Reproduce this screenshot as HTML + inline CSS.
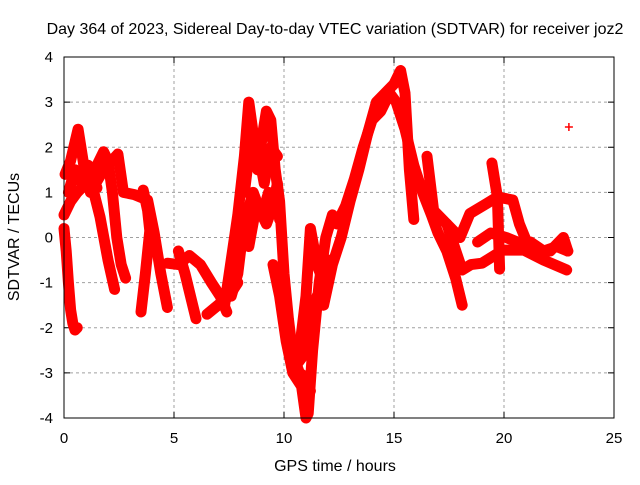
<!DOCTYPE html>
<html><head><meta charset="utf-8"><style>
body{margin:0;background:#fff}
svg text{font-family:"Liberation Sans",sans-serif;font-size:15px;fill:#000}
svg text.big{font-size:16px}
</style></head><body>
<svg id="chart" width="640" height="480" xmlns="http://www.w3.org/2000/svg">
<rect width="640" height="480" fill="#fff"/>
<text class="big" x="335" y="34" text-anchor="middle">Day 364 of 2023, Sidereal Day-to-day VTEC variation (SDTVAR) for receiver joz2</text>
<text class="big" x="335" y="471" text-anchor="middle">GPS time / hours</text>
<text class="big" transform="translate(19,237) rotate(-90)" text-anchor="middle">SDTVAR / TECUs</text>
<g id="grid"></g><g id="ticks"></g><g id="series"></g>
<rect x="64" y="57" width="550" height="361" fill="none" stroke="#000" stroke-width="1"/>
</svg>
<script>
const xTicks=[0,5,10,15,20,25];
const yTicks=[-4,-3,-2,-1,0,1,2,3,4];
const traces=[
{t:[0,0.1,0.2,0.3,0.4,0.5,0.6],v:[0.2,-0.3,-1,-1.6,-1.9,-2.05,-2.0]},
{t:[0,0.3,0.6,1.0,1.4,1.8,2.0,2.2,2.4,2.6,2.8],v:[0.5,0.8,1.0,1.2,1.5,1.9,1.7,1.0,0.0,-0.6,-0.9]},
{t:[0.05,0.3,0.64,0.9,1.2,1.64,2.0,2.3],v:[1.4,1.7,2.4,1.6,1.3,0.45,-0.5,-1.15]},
{t:[0.2,0.5,0.8,1.1,1.5],v:[1.0,1.5,1.2,1.6,1.1]},
{t:[1.2,1.8,2.45,2.7,3.2,3.8,4.1,4.4,4.7],v:[1.0,1.5,1.85,1.0,0.95,0.83,0.1,-0.8,-1.55]},
{t:[3.6,3.8,3.9,3.7,3.5],v:[1.05,0.6,0.15,-0.8,-1.65]},
{t:[4.7,5.2,5.7,6.2,6.7,7.1,7.4],v:[-0.57,-0.6,-0.4,-0.6,-1.0,-1.3,-1.65]},
{t:[5.2,5.5,5.8,6.0],v:[-0.3,-0.8,-1.4,-1.8]},
{t:[6.5,7.0,7.5,7.9],v:[-1.7,-1.5,-1.3,-1.0]},
{t:[7.3,7.6,7.9,8.2,8.4,8.6,8.8,9.0,9.2,9.4,9.6,9.8,10.0,10.2,10.4,10.7,11.0,11.2],v:[-1.5,-0.5,0.5,1.8,3.0,2.3,1.5,2.2,2.8,2.6,1.5,0.8,-0.8,-1.8,-2.6,-3.0,-3.1,-3.4]},
{t:[8.0,8.3,8.6,8.9,9.2,9.5,9.7,9.8],v:[-0.2,0.5,1.0,0.6,0.3,0.7,1.2,0.4]},
{t:[7.6,7.9,8.1,8.4,8.7,9.0,9.3],v:[-1.3,-0.8,0,-0.2,0.6,0.5,1.0]},
{t:[8.2,8.5,8.8,9.1,9.4,9.7],v:[1.0,2.2,2.0,1.2,2.0,1.8]},
{t:[9.5,9.8,10.1,10.4,10.8,11.0,11.1,11.3,11.6,11.9,12.2],v:[-0.6,-1.3,-2.3,-3.0,-3.3,-4.0,-3.9,-2.5,-1.0,0.0,0.5]},
{t:[10.7,11.0,11.2,11.5,11.8,12.0],v:[-2.5,-1.3,0.2,-0.6,-1.0,-0.5]},
{t:[10.3,10.6,10.9,11.2,11.5],v:[-2.2,-2.8,-2.6,-1.8,-1.3]},
{t:[11.8,12.2,12.6,13.0,13.4,13.8,14.2,14.6,15.0,15.3,15.5,15.7,15.9],v:[-1.5,-0.6,0.0,0.8,1.5,2.3,3.0,3.2,3.4,3.7,3.2,1.5,0.4]},
{t:[12.4,12.8,13.2,13.6,14.0,14.4,14.8,15.1,15.5,15.9,16.3,16.7,17.0,17.4,17.8,18.1],v:[0.3,0.7,1.3,2.0,2.6,2.8,3.2,3.0,2.4,1.6,1.0,0.5,0.1,-0.3,-0.9,-1.5]},
{t:[16.5,16.8,17.4,18.1,18.5,19.0,19.95,20.9,21.8,22.85],v:[1.8,0.6,0.3,-0.72,-0.6,-0.57,-0.28,-0.28,-0.5,-0.72]},
{t:[17.4,18.0,18.45,19.2,19.7,20.4,20.7,21.2,22.1,22.7,22.9],v:[0.3,0.0,0.53,0.75,0.9,0.83,0.3,-0.3,-0.3,0,-0.3]},
{t:[19.45,19.6,19.7,19.8],v:[1.65,1.2,0.9,-0.7]},
{t:[18.8,19.4,20.1,20.6,21.2,21.8,22.4,22.9],v:[-0.1,0.1,0,-0.1,-0.1,-0.3,-0.2,-0.3]},
{t:[22.95],v:[2.45]}
];
const X=t=>64+t*22, Y=v=>237.5-v*45.125;
const NS="http://www.w3.org/2000/svg";
const mk=(tag,a)=>{const e=document.createElementNS(NS,tag);for(const k in a)e.setAttribute(k,a[k]);return e;};
const grid=document.getElementById('grid'),ticks=document.getElementById('ticks'),ser=document.getElementById('series');
xTicks.forEach(t=>{
 if(t>0&&t<25){const g=mk('line',{x1:X(t),x2:X(t),y1:57,y2:418,stroke:'#a0a0a0','stroke-dasharray':'3,3'});
 
 
 grid.appendChild(g);}
 const tk=mk('path',{d:`M${X(t)},418v-6M${X(t)},57v6`,stroke:'#000'});
 
 
 ticks.appendChild(tk);
 const l=mk('text',{x:X(t),y:443,'text-anchor':'middle'});l.textContent=t;
 
 
 ticks.appendChild(l);
});
yTicks.forEach(v=>{
 if(v>-4&&v<4){const g=mk('line',{x1:64,x2:614,y1:Y(v),y2:Y(v),stroke:'#a0a0a0','stroke-dasharray':'3,3'});
 
 
 grid.appendChild(g);}
 const tk=mk('path',{d:`M64,${Y(v)}h6M614,${Y(v)}h-6`,stroke:'#000'});
 
 
 ticks.appendChild(tk);
 const l=mk('text',{x:53,y:Y(v)+5,'text-anchor':'end'});l.textContent=v;
 
 
 ticks.appendChild(l);
});
traces.forEach((tr,i)=>{
 const pts=tr.t.map((t,j)=>X(t)+','+Y(tr.v[j])).join(' ');
 if(tr.t.length>1){const p=mk('polyline',{points:pts,fill:'none',stroke:'#f00','stroke-width':11,'stroke-linejoin':'round','stroke-linecap':'round'});
 
 
 ser.appendChild(p);}
 tr.t.forEach((t,j)=>{const x=X(t),y=Y(tr.v[j]);
  const m=mk('path',{d:`M${x-4},${y}h8M${x},${y-4}v8`,stroke:'#f00','stroke-width':1.5});
  
  
  ser.appendChild(m);});
});
</script>
</body></html>
